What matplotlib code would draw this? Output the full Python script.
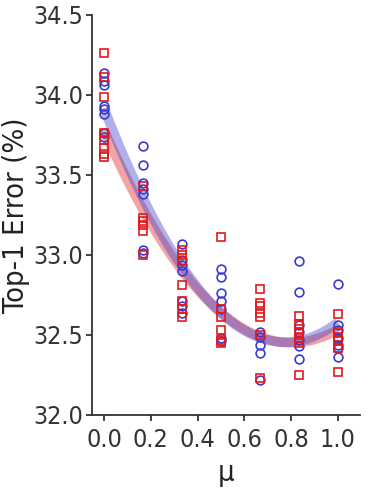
import numpy as np
import matplotlib
matplotlib.use("Agg")
import matplotlib.pyplot as plt
from matplotlib import font_manager as fm

mu_levels = [0.0, 1/6, 1/3, 0.5, 2/3, 5/6, 1.0]

blue_vals = [
    [34.14, 34.09, 34.06, 33.93, 33.91, 33.88, 33.76, 33.74],
    [33.68, 33.56, 33.45, 33.41, 33.38, 33.03, 33.01],
    [33.07, 32.97, 32.94, 32.90, 32.71, 32.68, 32.64],
    [32.91, 32.86, 32.76, 32.71, 32.66, 32.48, 32.46],
    [32.52, 32.49, 32.44, 32.39, 32.22],
    [32.96, 32.77, 32.56, 32.52, 32.47, 32.43, 32.35],
    [32.82, 32.56, 32.53, 32.48, 32.44, 32.42, 32.36],
]
red_vals = [
    [34.26, 34.11, 33.99, 33.76, 33.72, 33.67, 33.63, 33.61],
    [33.43, 33.23, 33.21, 33.19, 33.15, 33.00],
    [33.03, 33.00, 32.96, 32.81, 32.71, 32.66, 32.61],
    [33.11, 32.66, 32.61, 32.53, 32.47, 32.45],
    [32.79, 32.70, 32.68, 32.64, 32.61, 32.50, 32.23],
    [32.62, 32.57, 32.54, 32.51, 32.48, 32.45, 32.25],
    [32.63, 32.52, 32.49, 32.46, 32.42, 32.27],
]

xticks = [0.0, 0.2, 0.4, 0.6, 0.8, 1.0]
yticks = [32.0, 32.5, 33.0, 33.5, 34.0, 34.5]

blue = "#3a3acc"
red = "#e3191c"

fp = fm.FontProperties(family="DejaVu Sans", stretch="condensed", size=18)
fpl = fm.FontProperties(family="DejaVu Sans", stretch="condensed", size=21)

fig = plt.figure(figsize=(3.66, 4.91), dpi=100)
ax = fig.add_axes([0.2514, 0.1548, 0.732, 0.8147])

def flat(levels, vals):
    xs, ys = [], []
    for m, v in zip(levels, vals):
        xs += [m] * len(v)
        ys += v
    return np.array(xs), np.array(ys)

xb, yb = flat(mu_levels, blue_vals)
xr, yr = flat(mu_levels, red_vals)
xx = np.linspace(0, 1, 200)
for xs, ys, c in [(xr, yr, red), (xb, yb, blue)]:
    p = np.polyfit(xs, ys, 2)
    ax.plot(xx, np.polyval(p, xx), color=c, lw=7, alpha=0.4, solid_capstyle="butt", zorder=1)

ax.plot(xb, yb, 'o', mfc='none', mec=blue, ms=6.3, mew=1.2, zorder=2)
ax.plot(xr, yr, 's', mfc='none', mec=red, ms=6.3, mew=1.2, zorder=3)

ax.set_xlim(-0.051, 1.094)
ax.set_ylim(32.0, 34.5)
ax.set_xticks(xticks)
ax.set_yticks(yticks)
ax.set_xticklabels([f"{t:.1f}" for t in xticks], fontproperties=fp, color="#222222")
ax.set_yticklabels([f"{t:.1f}" for t in yticks], fontproperties=fp, color="#222222")
for s in ["top", "right"]:
    ax.spines[s].set_visible(False)
for s in ["left", "bottom"]:
    ax.spines[s].set_color("#333333")
    ax.spines[s].set_linewidth(1.3)
ax.tick_params(colors="#333333", length=4.5, width=1.3)
ax.tick_params(axis="y", pad=2)
ax.tick_params(axis="x", pad=5)
ax.set_xlabel("μ", fontproperties=fpl, color="#222222")
ax.set_ylabel("Top-1 Error (%)", fontproperties=fpl, color="#222222")
ax.yaxis.set_label_coords(-0.233, 0.5)
ax.xaxis.set_label_coords(0.5, -0.11)

fig.savefig("out.png", dpi=100)
